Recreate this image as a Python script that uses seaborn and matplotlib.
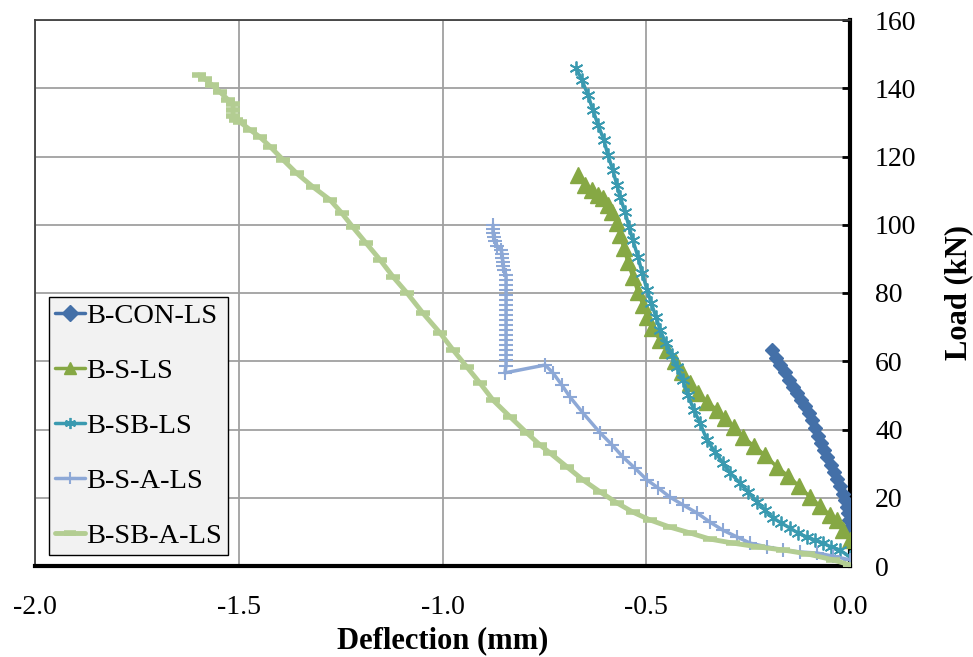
import matplotlib
matplotlib.use("Agg")
import matplotlib.pyplot as plt
import seaborn as sns
import pandas as pd

# ---- data (deflection mm, load kN) ----
con_x = [-0.192, -0.182, -0.172, -0.160, -0.150, -0.140, -0.130, -0.120, -0.110, -0.101, -0.093,
         -0.086, -0.079, -0.071, -0.064, -0.056, -0.047, -0.039, -0.032, -0.025, -0.017, -0.012,
         -0.007, -0.005, -0.002, 0.000]
con_y = [63.3, 61.0, 58.9, 56.8, 54.5, 52.5, 50.7, 48.6, 46.9, 44.8, 42.8,
         40.4, 38.1, 36.0, 34.0, 31.9, 29.6, 27.5, 25.5, 23.4, 21.1, 19.3,
         17.3, 15.5, 13.5, 11.4]

s_x = [-0.667, -0.650, -0.633, -0.618, -0.606, -0.594, -0.584, -0.572, -0.564, -0.555, -0.545,
       -0.533, -0.520, -0.508, -0.498, -0.486, -0.466, -0.449, -0.429, -0.412, -0.393, -0.373,
       -0.351, -0.326, -0.307, -0.285, -0.263, -0.236, -0.209, -0.179, -0.152, -0.125, -0.098,
       -0.074, -0.049, -0.032, -0.017, 0.000]
s_y = [114.5, 111.6, 110.2, 108.7, 107.8, 105.8, 103.7, 100.5, 97.0, 93.2, 89.1,
       84.7, 80.3, 76.5, 73.0, 69.7, 66.2, 63.3, 60.1, 56.8, 53.6, 50.7,
       48.1, 45.7, 43.4, 40.7, 37.8, 35.2, 32.5, 29.0, 26.4, 23.4, 20.2,
       17.6, 14.9, 13.5, 10.5, 7.6]

sb_x = [-0.672, -0.658, -0.643, -0.631, -0.618, -0.604, -0.594, -0.582, -0.572, -0.564, -0.552,
        -0.542, -0.533, -0.520, -0.510, -0.498, -0.488, -0.476, -0.466, -0.452, -0.437, -0.425,
        -0.410, -0.398, -0.383, -0.368, -0.351, -0.331, -0.312, -0.294, -0.270, -0.250, -0.228,
        -0.209, -0.189, -0.169, -0.147, -0.128, -0.106, -0.086, -0.066, -0.047, -0.025, 0.000]
sb_y = [145.9, 142.4, 138.0, 133.6, 129.2, 124.8, 120.4, 116.0, 111.6, 108.1, 103.7,
        99.3, 95.5, 90.5, 85.9, 80.9, 77.1, 73.0, 69.2, 65.3, 61.8, 58.3,
        54.5, 50.1, 45.7, 41.9, 36.9, 33.4, 30.2, 27.3, 24.3, 21.7, 18.8,
        16.4, 14.1, 12.6, 11.1, 9.7, 8.5, 7.6, 6.7, 5.6, 4.7, 2.6]

sa_x = [-0.876, -0.876, -0.876, -0.874, -0.871, -0.866, -0.856, -0.854, -0.854, -0.851, -0.851,
        -0.849, -0.844, -0.844, -0.844, -0.844, -0.844, -0.844, -0.844, -0.844, -0.844, -0.844,
        -0.844, -0.844, -0.844, -0.844, -0.844, -0.844, -0.844, -0.844, -0.844, -0.847, -0.748,
        -0.729, -0.707, -0.687, -0.655, -0.613, -0.584, -0.557, -0.528, -0.498, -0.471, -0.442,
        -0.410, -0.375, -0.344, -0.312, -0.277, -0.245, -0.204, -0.164, -0.123, -0.081, -0.042,
        0.000]
sa_y = [99.9, 98.8, 97.6, 96.4, 95.2, 93.8, 92.6, 91.4, 90.3, 89.1, 87.9,
        86.7, 85.3, 83.8, 82.3, 80.9, 79.4, 77.9, 76.5, 75.0, 73.6, 72.1,
        70.6, 69.2, 67.7, 66.2, 64.8, 63.3, 61.8, 60.4, 58.6, 56.6, 58.9,
        56.6, 53.0, 49.5, 44.8, 39.0, 35.5, 31.9, 28.7, 25.2, 22.9, 20.2,
        17.9, 15.5, 12.9, 10.5, 8.5, 6.7, 5.6, 4.7, 4.1, 3.8, 2.9,
        1.8]

sba_x = [-1.598, -1.583, -1.566, -1.546, -1.526, -1.514, -1.514, -1.514, -1.507, -1.497, -1.472,
         -1.448, -1.423, -1.391, -1.358, -1.318, -1.276, -1.247, -1.220, -1.188, -1.153, -1.121,
         -1.087, -1.048, -1.006, -0.974, -0.940, -0.908, -0.876, -0.834, -0.793, -0.761, -0.736,
         -0.694, -0.655, -0.613, -0.572, -0.533, -0.491, -0.442, -0.393, -0.344, -0.287, -0.226,
         -0.164, -0.103, -0.042, 0.000]
sba_y = [143.9, 142.7, 141.0, 138.9, 136.6, 135.4, 133.6, 131.9, 130.7, 130.1, 127.8,
         125.7, 122.9, 119.0, 115.1, 111.1, 107.3, 103.4, 99.3, 94.7, 89.7, 84.7,
         80.0, 74.1, 68.3, 63.3, 58.3, 53.6, 48.6, 43.7, 39.0, 35.5, 33.1,
         29.0, 25.2, 21.7, 18.5, 15.8, 13.5, 11.4, 9.7, 7.9, 6.7, 5.6,
         4.7, 3.5, 1.8, 0.3]

series_names = ["B-CON-LS", "B-S-LS", "B-SB-LS", "B-S-A-LS", "B-SB-A-LS"]
x_ticks = [-2.0, -1.5, -1.0, -0.5, 0.0]
y_ticks = [0, 20, 40, 60, 80, 100, 120, 140, 160]

# ---- style ----
sns.set_theme(style="white")
plt.rcParams["font.family"] = ["Liberation Serif", "DejaVu Serif"]
plt.rcParams["text.color"] = "black"
plt.rcParams["axes.labelcolor"] = "black"
plt.rcParams["xtick.color"] = "black"
plt.rcParams["ytick.color"] = "black"

fig = plt.figure(figsize=(9.73, 6.57), dpi=100)
ax = fig.add_axes([35 / 973, 1 - 566 / 657, 815 / 973, 546 / 657])

styles = [
    dict(color="#4470A8", marker="D", markersize=7, lw=2.5, mec="#4470A8"),
    dict(color="#86A844", marker="^", markersize=11, lw=2.5, mec="#86A844"),
    dict(color="#3A9AB0", marker=(6, 2, 0), markersize=10, lw=2.5, mec="#3A9AB0", mew=1.3),
    dict(color="#8DA8D6", marker="+", markersize=10, lw=2.5, mec="#8DA8D6", mew=1.5),
    dict(color="#B3CD92", marker="_", markersize=10, lw=3.5, mec="#B3CD92", mew=4),
]
data = [(con_x, con_y), (s_x, s_y), (sb_x, sb_y), (sa_x, sa_y), (sba_x, sba_y)]

for name, (xs, ys), st in zip(series_names, data, styles):
    df = pd.DataFrame({"x": xs, "y": ys})
    sns.lineplot(data=df, x="x", y="y", sort=False, estimator=None, ax=ax,
                 label=name, color=st["color"], linewidth=st["lw"],
                 marker=st["marker"], markersize=st["markersize"],
                 markeredgecolor=st["mec"], markeredgewidth=st.get("mew", 1),
                 zorder=3)

ax.set_xlim(-2.0, 0.0)
ax.set_ylim(0, 160)
ax.set_xticks(x_ticks)
ax.set_yticks(y_ticks)
ax.set_xticklabels([f"{v:.1f}" for v in x_ticks], fontsize=20, color="black")
ax.set_yticklabels([str(v) for v in y_ticks], fontsize=20, color="black")
ax.yaxis.tick_right()
ax.yaxis.set_label_position("right")
ax.tick_params(axis="both", direction="in", length=6, width=2, color="black")
ax.tick_params(axis="x", pad=21)
ax.tick_params(axis="y", pad=18)

ax.grid(True, color="#A0A0A0", linewidth=1.3)
ax.set_axisbelow(True)

for side in ["bottom", "right"]:
    ax.spines[side].set_color("black")
    ax.spines[side].set_linewidth(3)
for side in ["top", "left"]:
    ax.spines[side].set_color("#404040")
    ax.spines[side].set_linewidth(1.3)

ax.set_xlabel("Deflection (mm)", fontsize=22, fontweight="bold", labelpad=4, color="black")
ax.set_ylabel("Load (kN)", fontsize=22, fontweight="bold", labelpad=20, color="black")

leg = ax.legend(loc="lower left", bbox_to_anchor=(0.017, 0.02), fontsize=20.5,
                frameon=True, fancybox=False, framealpha=1, facecolor="#F2F2F2",
                edgecolor="black", handlelength=1.05, handletextpad=0.05,
                labelspacing=1.02, borderpad=0.22, borderaxespad=0)
leg.get_frame().set_linewidth(1.0)
for t in leg.get_texts():
    t.set_color("black")
for h in leg.legend_handles:
    h.set_markersize(8)

fig.savefig("out.png", dpi=100)
